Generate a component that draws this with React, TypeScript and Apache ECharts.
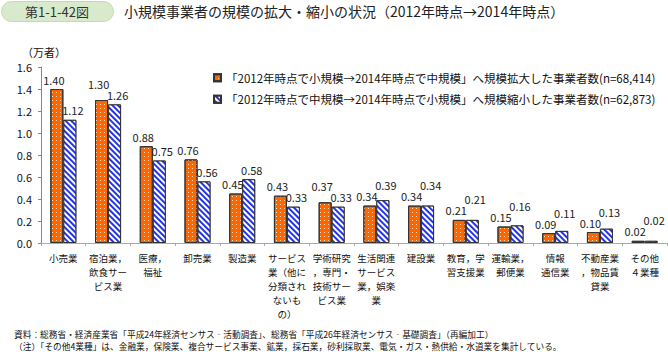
import React, { useEffect, useRef } from "react";
import * as echarts from "echarts";

const categories = [
  "小売業",
  "宿泊業，\n飲食サー\nビス業",
  "医療，\n福祉",
  "卸売業",
  "製造業",
  "サービス\n業（他に\n分類され\nないも\nの）",
  "学術研究\n，専門・\n技術サー\nビス業",
  "生活関連\nサービス\n業，娯楽\n業",
  "建設業",
  "教育，学\n習支援業",
  "運輸業，\n郵便業",
  "情報\n通信業",
  "不動産業\n，物品賃\n貸業",
  "その他\n４業種",
];
const expanded = [1.40, 1.30, 0.88, 0.76, 0.45, 0.43, 0.37, 0.34, 0.34, 0.21, 0.15, 0.09, 0.10, 0.02];
const shrunk = [1.12, 1.26, 0.75, 0.56, 0.58, 0.33, 0.33, 0.39, 0.34, 0.21, 0.16, 0.11, 0.13, 0.02];
const seriesNames = [
  "「2012年時点で小規模→2014年時点で中規模」へ規模拡大した事業者数(n=68,414)",
  "「2012年時点で中規模→2014年時点で小規模」へ規模縮小した事業者数(n=62,873)",
];
const yTicks = { min: 0, max: 1.6, interval: 0.2 };
const titleBadge = "第1-1-42図";
const titleText = "小規模事業者の規模の拡大・縮小の状況（2012年時点→2014年時点）";
const unitText = "（万者）";
const footnotes = [
  "資料：総務省・経済産業省「平成24年経済センサス‐活動調査」、総務省「平成26年経済センサス‐基礎調査」（再編加工）",
  "（注）「その他4業種」は、金融業，保険業、複合サービス事業、鉱業，採石業，砂利採取業、電気・ガス・熱供給・水道業を集計している。",
];

const FONT = "'Noto Sans CJK JP', 'Noto Sans', sans-serif";

export default function App() {
  const ref = useRef<HTMLDivElement>(null);
  useEffect(() => {
    if (!ref.current) return;
    const chart = echarts.init(ref.current, undefined, { renderer: "svg" });
    const pxPerUnit = 176 / 1.6;
    const baseDist = 4;
    const extraFor = (self: number, other: number, preferOnTie: boolean) => {
      const d = self - other;
      if (Math.abs(d) >= 0.1) return 0;
      const higher = d > 0 || (d === 0 && preferOnTie);
      if (!higher) return 0;
      return Math.max(0, 11 - Math.abs(d) * pxPerUnit);
    };
    const orangeData = expanded.map((v, i) => ({
      value: v,
      label: { distance: baseDist + extraFor(v, shrunk[i], false) },
    }));
    const blueData = shrunk.map((v, i) => ({
      value: v,
      label: { distance: baseDist + extraFor(v, expanded[i], true) },
    }));
    const labelBase = {
      show: true,
      position: "top" as const,
      fontSize: 11,
      color: "#222",
      fontFamily: FONT,
      formatter: (p: any) => Number(p.value).toFixed(2),
    };
    chart.setOption({
      animation: false,
      textStyle: { fontFamily: FONT },
      grid: { left: 41, right: 1, top: 67, bottom: 109, containLabel: false },
      legend: {
        orient: "vertical",
        left: 208,
        top: 67,
        itemWidth: 7,
        itemHeight: 7,
        itemGap: 10,
        icon: "rect",
        textStyle: { fontSize: 11.5, color: "#111", fontFamily: FONT },
        data: seriesNames,
      },
      xAxis: {
        type: "category",
        data: categories,
        axisLine: { lineStyle: { color: "#aaa" } },
        axisTick: { show: true, length: 3, lineStyle: { color: "#aaa" } },
        axisLabel: {
          interval: 0,
          fontSize: 9.5,
          lineHeight: 14,
          color: "#111",
          margin: 8,
          fontFamily: FONT,
        },
      },
      yAxis: {
        type: "value",
        min: yTicks.min,
        max: yTicks.max,
        interval: yTicks.interval,
        axisLine: { show: true, lineStyle: { color: "#888" } },
        axisTick: { show: true, length: 3, lineStyle: { color: "#888" } },
        splitLine: { show: false },
        axisLabel: {
          fontSize: 11,
          color: "#111",
          margin: 9,
          fontFamily: FONT,
          formatter: (v: number) => v.toFixed(1),
        },
      },
      series: [
        {
          name: seriesNames[0],
          type: "bar",
          barWidth: 13,
          barGap: "0%",
          data: orangeData,
          itemStyle: {
            color: "#ff6600",
            borderColor: "#333",
            borderWidth: 1,
            decal: {
              symbol: "rect",
              symbolSize: 1,
              color: "rgba(255,230,200,0.9)",
              dashArrayX: [1, 3],
              dashArrayY: [1, 3],
              rotation: 0,
            },
          },
          label: { ...labelBase, offset: [-3, 0] },
        },
        {
          name: seriesNames[1],
          type: "bar",
          barWidth: 13,
          barGap: "0%",
          data: blueData,
          itemStyle: {
            color: "#2233ee",
            borderColor: "#333",
            borderWidth: 1,
            decal: {
              symbol: "rect",
              symbolSize: 1,
              color: "#ffffff",
              dashArrayX: [1, 0],
              dashArrayY: [1.3, 1.3],
              rotation: Math.PI / 4,
            },
          },
          label: { ...labelBase, offset: [3, 0] },
        },
      ],
      graphic: [
        {
          type: "rect",
          left: 1,
          top: 1,
          shape: { width: 112, height: 20, r: 10 },
          style: { fill: "#d8eacb", stroke: "#c3dcae", lineWidth: 1 },
        },
        {
          type: "text",
          x: 57,
          y: 11,
          style: {
            text: titleBadge,
            fontSize: 13,
            fontFamily: FONT,
            fill: "#333",
            align: "center",
            verticalAlign: "middle",
          },
        },
        {
          type: "text",
          x: 124,
          y: 11,
          style: {
            text: titleText,
            fontSize: 14,
            fontFamily: FONT,
            fill: "#222",
            align: "left",
            verticalAlign: "middle",
          },
        },
        {
          type: "text",
          x: 22,
          y: 52,
          style: {
            text: unitText,
            fontSize: 11,
            fontFamily: FONT,
            fill: "#111",
            align: "left",
            verticalAlign: "middle",
          },
        },
        {
          type: "text",
          x: 14,
          y: 334,
          style: {
            text: footnotes[0],
            fontSize: 8.7,
            fontFamily: FONT,
            fill: "#111",
            align: "left",
            verticalAlign: "middle",
          },
        },
        {
          type: "text",
          x: 14,
          y: 346,
          style: {
            text: footnotes[1],
            fontSize: 8.7,
            fontFamily: FONT,
            fill: "#111",
            align: "left",
            verticalAlign: "middle",
          },
        },
      ],
    });
    return () => chart.dispose();
  }, []);
  return (
    <div
      ref={ref}
      style={{ position: "absolute", left: 0, top: 0, width: 668, height: 352 }}
    />
  );
}
